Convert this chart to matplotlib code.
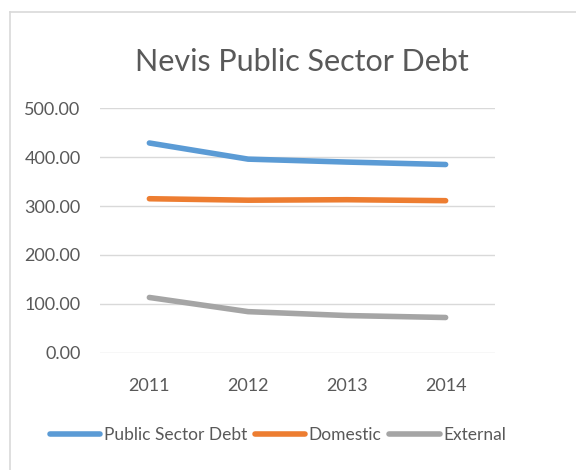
import matplotlib.pyplot as plt
from matplotlib.lines import Line2D

# Data
years = ["2011", "2012", "2013", "2014"]
public_sector_debt = [429, 396, 390, 385]
domestic = [315, 312, 313, 311]
external = [113, 84, 76, 72]

plt.rcParams['font.family'] = ['Lato', 'DejaVu Sans']
text_col = "#595959"

fig = plt.figure(figsize=(5.76, 4.70), dpi=100)
ax = fig.add_axes([100 / 576, 1 - 352.7 / 470, 395 / 576, (352.7 - 108.3) / 470])

x = range(len(years))
ax.plot(x, public_sector_debt, color="#5b9bd5", lw=4, solid_capstyle="round", label="Public Sector Debt")
ax.plot(x, domestic, color="#ed7d31", lw=4, solid_capstyle="round", label="Domestic")
ax.plot(x, external, color="#a5a5a5", lw=4, solid_capstyle="round", label="External")

ax.set_xlim(-0.5, 3.5)
ax.set_ylim(0, 500)
ax.set_yticks([0, 100, 200, 300, 400, 500])
ax.set_yticklabels([f"{v:.2f}" for v in [0, 100, 200, 300, 400, 500]])
ax.set_xticks(list(x))
ax.set_xticklabels(years)
ax.tick_params(length=0, labelsize=13, colors=text_col)
ax.tick_params(axis="x", pad=18)
ax.tick_params(axis="y", pad=14)
ax.grid(axis="y", color="#d9d9d9", lw=1)
ax.set_axisbelow(True)
for s in ax.spines.values():
    s.set_visible(False)

fig.text(302 / 576, 1 - 62 / 470, "Nevis Public Sector Debt", ha="center", va="center",
         fontsize=22, color=text_col)

leg = fig.legend(loc="center", bbox_to_anchor=(278 / 576, 1 - 435 / 470), ncol=3, frameon=False,
                 fontsize=12.5, handlelength=2.9, handletextpad=0.2, columnspacing=0.45,
                 labelcolor=text_col)

# chart border (left and top visible)
fig.add_artist(Line2D([10 / 576, 10 / 576], [0, 1 - 12 / 470], transform=fig.transFigure, color="#d9d9d9", lw=1.2))
fig.add_artist(Line2D([10 / 576, 1], [1 - 12 / 470, 1 - 12 / 470], transform=fig.transFigure, color="#d9d9d9", lw=1.2))

fig.savefig("out.png", dpi=100)
